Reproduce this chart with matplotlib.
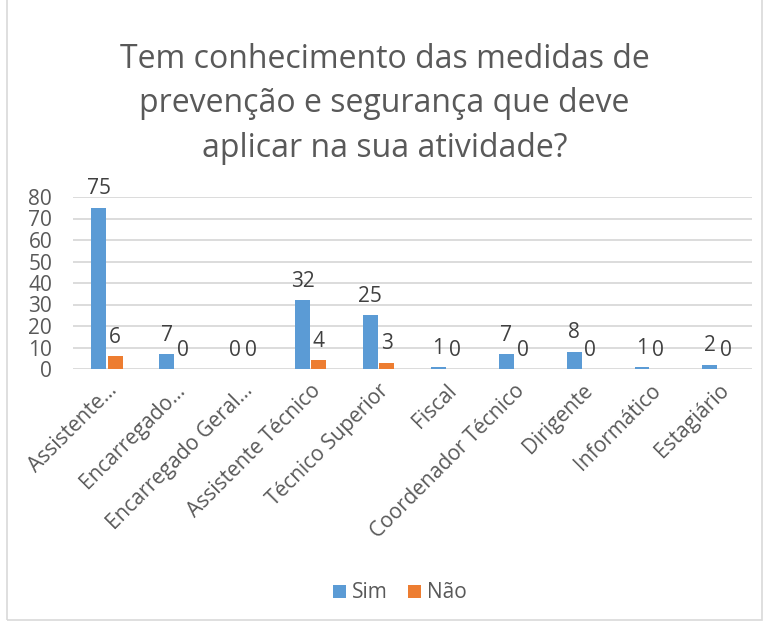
import numpy as np
import matplotlib
matplotlib.use('Agg')
import matplotlib.pyplot as plt
from matplotlib.patches import Rectangle

categories = ['Assistente…', 'Encarregado…', 'Encarregado Geral…', 'Assistente Técnico',
              'Técnico Superior', 'Fiscal', 'Coordenador Técnico', 'Dirigente',
              'Informático', 'Estagiário']
sim = [75, 7, 0, 32, 25, 1, 7, 8, 1, 2]
nao = [6, 0, 0, 4, 3, 0, 0, 0, 0, 0]

plt.rcParams['font.family'] = ['Open Sans', 'DejaVu Sans']
grey = '#595959'

fig = plt.figure(figsize=(7.69, 6.24), dpi=100)
ax = fig.add_axes([73/769, 1-369/624, (752-73)/769, (369-197)/624])

x = np.arange(len(categories))
w = 0.22
b1 = ax.bar(x - 0.12, sim, w, color='#5B9BD5', label='Sim')
b2 = ax.bar(x + 0.12, nao, w, color='#ED7D31', label='Não')

for bars, vals in ((b1, sim), (b2, nao)):
    for r, v in zip(bars, vals):
        ax.annotate(str(v), (r.get_x() + r.get_width()/2, v), xytext=(0, 6),
                    textcoords='offset points', ha='center', va='bottom',
                    fontsize=15, color='#404040')

ax.set_xlim(-0.5, len(categories) - 0.5)
ax.set_ylim(0, 80)
ax.set_yticks(range(0, 81, 10))
ax.yaxis.grid(True, color='#D9D9D9', linewidth=1.3)
ax.set_axisbelow(True)
for s in ax.spines.values():
    s.set_visible(False)
ax.tick_params(length=0, labelsize=15, labelcolor=grey)
ax.tick_params(axis='y', pad=15)
ax.tick_params(axis='x', pad=8)
ax.set_xticks(x)
ax.set_xticklabels(categories, rotation=45, ha='right', rotation_mode='anchor')

fig.text(0.5, 1-104/624, 'Tem conhecimento das medidas de\nprevenção e segurança que deve\naplicar na sua atividade?',
         ha='center', va='center', fontsize=23, color=grey, linespacing=1.45)

fig.legend(loc='center', bbox_to_anchor=(400/769, 1-593/624), ncol=2, frameon=False,
           fontsize=15, labelcolor=grey, handlelength=0.6, handleheight=0.6,
           handletextpad=0.3, columnspacing=1.0)

fig.patches.append(Rectangle((7/769, 4/624), 755/769, 640/624, transform=fig.transFigure,
                             fill=False, edgecolor='#D9D9D9', linewidth=1.2))

plt.savefig('out.png')
